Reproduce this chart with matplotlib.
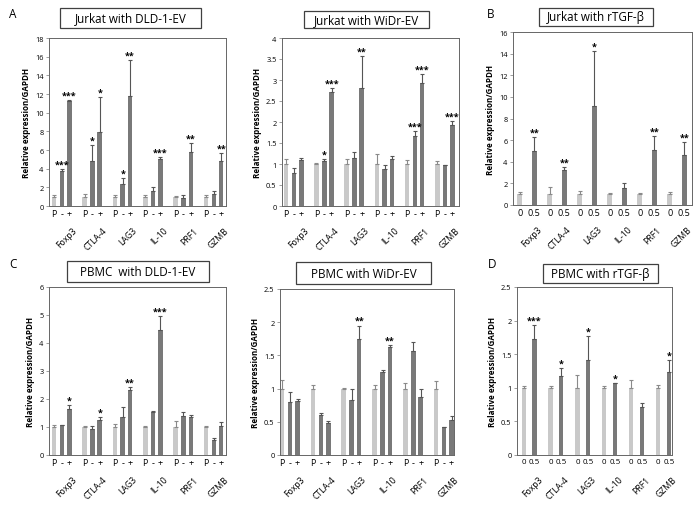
import numpy as np
import matplotlib
matplotlib.use("Agg")
import matplotlib.pyplot as plt
from matplotlib.patches import Rectangle

plt.rcParams['font.family'] = ['Open Sans', 'DejaVu Sans']

genes = ["Foxp3", "CTLA-4", "LAG3", "IL-10", "PRF1", "GZMB"]

# Jurkat with DLD-1-EV (P, -, +)
jd_p = [1.0, 1.0, 1.0, 1.0, 1.0, 1.0]
jd_p_err = [0.2, 0.25, 0.2, 0.2, 0.1, 0.2]
jd_neg = [3.8, 4.8, 2.4, 1.6, 0.85, 1.3]
jd_neg_err = [0.2, 1.7, 0.55, 0.4, 0.3, 0.3]
jd_pos = [11.2, 7.9, 11.8, 5.0, 5.8, 4.8]
jd_pos_err = [0.2, 3.8, 3.8, 0.2, 1.0, 0.9]
jd_neg_sig = ["***", "*", "*", "", "", ""]
jd_pos_sig = ["***", "*", "**", "***", "**", "**"]

# Jurkat with WiDr-EV
jw_p = [1.0, 1.0, 1.0, 1.0, 1.0, 1.0]
jw_p_err = [0.13, 0.02, 0.12, 0.24, 0.09, 0.06]
jw_neg = [0.78, 1.08, 1.15, 0.87, 1.67, 0.98]
jw_neg_err = [0.12, 0.05, 0.13, 0.11, 0.12, 0.0]
jw_pos = [1.1, 2.72, 2.82, 1.12, 2.93, 1.92]
jw_pos_err = [0.05, 0.08, 0.76, 0.06, 0.22, 0.1]
jw_neg_sig = ["", "*", "", "", "***", ""]
jw_pos_sig = ["", "***", "**", "", "***", "***"]

# Jurkat with rTGF-beta (0, 0.5)
jt_0 = [1.0, 1.0, 1.0, 1.0, 1.0, 1.0]
jt_0_err = [0.2, 0.65, 0.3, 0.1, 0.1, 0.2]
jt_05 = [4.97, 3.2, 9.2, 1.55, 5.05, 4.65]
jt_05_err = [1.33, 0.3, 5.0, 0.5, 1.3, 1.2]
jt_sig = ["**", "**", "*", "", "**", "**"]

# PBMC with DLD-1-EV
pd_p = [1.0, 1.0, 1.0, 1.0, 1.0, 1.0]
pd_p_err = [0.08, 0.03, 0.1, 0.04, 0.2, 0.05]
pd_neg = [1.08, 0.92, 1.35, 1.55, 1.4, 0.55]
pd_neg_err = [0.0, 0.1, 0.35, 0.03, 0.15, 0.05]
pd_pos = [1.65, 1.25, 2.33, 4.45, 1.35, 1.02]
pd_pos_err = [0.13, 0.1, 0.09, 0.5, 0.07, 0.15]
pd_pos_sig = ["*", "*", "**", "***", "", ""]

# PBMC with WiDr-EV
pw_p = [1.0, 1.0, 1.0, 1.0, 1.0, 1.0]
pw_p_err = [0.13, 0.05, 0.01, 0.05, 0.09, 0.12]
pw_neg = [0.8, 0.6, 0.83, 1.25, 1.56, 0.42]
pw_neg_err = [0.15, 0.03, 0.16, 0.03, 0.14, 0.0]
pw_pos = [0.82, 0.48, 1.75, 1.63, 0.88, 0.52]
pw_pos_err = [0.02, 0.03, 0.2, 0.02, 0.12, 0.06]
pw_pos_sig = ["", "", "**", "**", "", ""]

# PBMC with rTGF-beta
pt_0 = [1.0, 1.0, 1.0, 1.0, 1.0, 1.0]
pt_0_err = [0.03, 0.02, 0.19, 0.02, 0.11, 0.04]
pt_05 = [1.73, 1.17, 1.42, 1.07, 0.72, 1.24]
pt_05_err = [0.21, 0.12, 0.35, 0.0, 0.06, 0.17]
pt_sig = ["***", "*", "*", "*", "", "*"]

LIGHT = "#c9c9c9"
DARK = "#797979"
W, H = 700, 506

fig = plt.figure(figsize=(7, 5.06), dpi=100)


def px_axes(l, t, r, b):
    return fig.add_axes([l / W, 1 - b / H, (r - l) / W, (b - t) / H])


def title_box(l, t, r, b, text):
    fig.add_artist(Rectangle((l / W, 1 - b / H), (r - l) / W, (b - t) / H,
                             transform=fig.transFigure, facecolor="white",
                             edgecolor="#404040", linewidth=0.9))
    fig.text((l + r) / 2 / W, 1 - (t + b) / 2 / H, text, ha="center",
             va="center", fontsize=8.4)


def panel(ax, series, labels, offsets, width, ymax, ystep, xlim, cond_size=6.5):
    x = np.arange(len(genes))
    for (vals, errs, sig, col), off in zip(series, offsets):
        ecol = "#8a8a8a" if col == LIGHT else "#555555"
        ax.bar(x + off, vals, width, color=col, yerr=[np.zeros(6), errs],
               error_kw=dict(ecolor=ecol, elinewidth=0.8, capsize=1.7,
                             capthick=0.8))
        for xi, v, e, s in zip(x + off, vals, errs, sig):
            if s:
                ax.annotate(s, (xi, v + e), xytext=(0, 0.3),
                            textcoords="offset points", ha="center",
                            va="bottom", fontsize=6.5, fontweight="bold")
    ax.set_xlim(*xlim)
    ax.set_ylim(0, ymax)
    ticks = np.arange(0, ymax + ystep / 2, ystep)
    ax.set_yticks(ticks)
    ax.set_yticklabels(["{:g}".format(t) for t in ticks])
    ax.tick_params(axis="y", labelsize=5.3, length=2, width=0.5,
                   color="#777777", pad=2)
    # small condition labels under every bar, gene names below them
    minor = np.concatenate([x + off for off in offsets])
    ax.set_xticks(minor, minor=True)
    ax.set_xticklabels([lab for lab in labels for _ in x], minor=True)
    ax.set_xticks(x + 0.32)
    ax.set_xticklabels(genes, rotation=45, ha="right",
                       rotation_mode="anchor")
    ax.tick_params(axis="x", which="minor", length=0, labelsize=cond_size,
                   pad=2)
    ax.tick_params(axis="x", which="major", length=0, labelsize=6.2, pad=14)
    ax.set_ylabel("Relative expression/GAPDH", fontsize=5.8,
                  fontweight="bold", labelpad=3)
    for sp in ax.spines.values():
        sp.set_color("#666666")
        sp.set_linewidth(0.7)


three = ["P", "-", "+"]
two = ["0", "0.5"]
off3 = [-0.26, 0.0, 0.24]
off2 = [-0.24, 0.24]

# Top row
ax = px_axes(49, 39, 226, 207)
panel(ax, [(jd_p, jd_p_err, [""] * 6, LIGHT),
           (jd_neg, jd_neg_err, jd_neg_sig, DARK),
           (jd_pos, jd_pos_err, jd_pos_sig, DARK)],
      three, off3, 0.15, 18, 2, (-0.43, 5.4))

ax = px_axes(282, 39, 459, 207)
panel(ax, [(jw_p, jw_p_err, [""] * 6, LIGHT),
           (jw_neg, jw_neg_err, jw_neg_sig, DARK),
           (jw_pos, jw_pos_err, jw_pos_sig, DARK)],
      three, off3, 0.15, 4, 0.5, (-0.4, 5.46))

ax = px_axes(513, 33, 692, 206)
panel(ax, [(jt_0, jt_0_err, [""] * 6, LIGHT),
           (jt_05, jt_05_err, jt_sig, DARK)],
      two, off2, 0.17, 16, 2, (-0.47, 5.5))

# Bottom row
ax = px_axes(49, 288, 226, 456)
panel(ax, [(pd_p, pd_p_err, [""] * 6, LIGHT),
           (pd_neg, pd_neg_err, [""] * 6, DARK),
           (pd_pos, pd_pos_err, pd_pos_sig, DARK)],
      three, off3, 0.15, 6, 1, (-0.43, 5.4))

ax = px_axes(280, 290, 454, 456)
panel(ax, [(pw_p, pw_p_err, [""] * 6, LIGHT),
           (pw_neg, pw_neg_err, [""] * 6, DARK),
           (pw_pos, pw_pos_err, pw_pos_sig, DARK)],
      three, off3, 0.15, 2.5, 0.5, (-0.33, 5.3))

ax = px_axes(517, 288, 672, 456)
panel(ax, [(pt_0, pt_0_err, [""] * 6, LIGHT),
           (pt_05, pt_05_err, pt_sig, DARK)],
      two, [-0.2, 0.2], 0.16, 2.5, 0.5, (-0.45, 5.2), cond_size=5.8)

title_box(60, 9, 201, 29, "Jurkat with DLD-1-EV")
title_box(304, 12, 429, 29, "Jurkat with WiDr-EV")
title_box(539, 9, 653, 27, "Jurkat with rTGF-β")
title_box(67, 262, 209, 283, "PBMC  with DLD-1-EV")
title_box(296, 263, 431, 285, "PBMC with WiDr-EV")
title_box(543, 265, 658, 284, "PBMC with rTGF-β")

for lab, (px, py) in zip("ABCD", [(13, 14), (491, 14), (13, 265), (492, 265)]):
    fig.text(px / W, 1 - py / H, lab, ha="center", va="center", fontsize=8.5)

fig.savefig("out.png", dpi=100, facecolor="white")
